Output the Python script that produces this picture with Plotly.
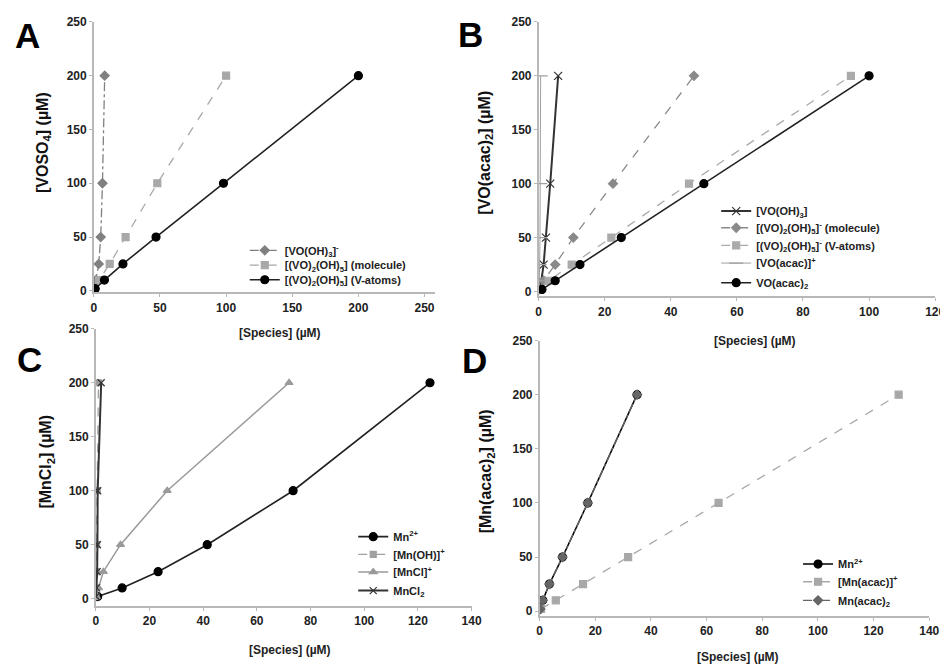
import plotly.graph_objects as go

W, H = 948, 667

# ---- panel A: VOSO4 ----
a_total = [2, 10, 25, 50, 100, 200]
a_vooh3 = [0.4, 1.5, 3.7, 5.2, 6.5, 8.2]
a_dimer_mol = [0.5, 4, 12, 24, 48, 100]
a_dimer_v = [1, 8, 22, 47, 98, 200]

# ---- panel B: VO(acac)2 ----
b_total = [2, 10, 25, 50, 100, 200]
b_vooh3 = [0.3, 0.8, 1.5, 2.2, 3.5, 5.9]
b_dimer_mol = [0.2, 1.5, 5, 10.5, 22.5, 47]
b_dimer_v = [0.4, 3, 10, 22, 45.5, 94.5]
b_voacac = [0.1, 0.2, 0.3, 0.4, 0.5, 0.6]
b_voacac2 = [1, 5, 12.5, 25, 50, 100]

# ---- panel C: MnCl2 ----
c_total = [2, 10, 25, 50, 100, 200]
c_mn = [0.7, 9.8, 23.2, 41.5, 73.5, 124.5]
c_mnoh = [0.05, 0.1, 0.2, 0.3, 0.5, 1.0]
c_mncl = [0.2, 1, 2.8, 9.2, 26.6, 72]
c_mncl2 = [0.1, 0.3, 0.5, 0.6, 0.7, 2.0]

# ---- panel D: Mn(acac)2 ----
d_total = [2, 10, 25, 50, 100, 200]
d_mn = [0.2, 1.1, 3.5, 8.2, 17.3, 35]
d_mnacac = [0.5, 5.8, 15.6, 31.8, 64.3, 129]
d_mnacac2 = [0.2, 1.1, 3.5, 8.2, 17.3, 35]


def px_x(p):
    return p / W


def px_y(p):
    return 1 - p / H


fig = go.Figure()
legend_layout = {}
legend_font = dict(size=11, color="#222222", weight="bold", family="Liberation Sans, Arial")


def add_series(x, y, name, color, dash, symbol, size, axes, legend_pos, width=1.3, mcolor=None):
    # one legend per entry so each row can sit where the reference puts it
    idx = len(fig.data) + 1
    key = "legend" if idx == 1 else f"legend{idx}"
    text_x, row_y = legend_pos
    legend_layout[key] = dict(
        x=px_x(text_x - 46), y=px_y(row_y), xanchor="left", yanchor="middle",
        xref="paper", yref="paper", bgcolor="rgba(0,0,0,0)", itemwidth=30,
        font=legend_font,
    )
    fig.add_trace(go.Scatter(
        x=x, y=y, name=name, mode="lines+markers", showlegend=True,
        line=dict(color=color, dash=dash, width=width),
        marker=dict(symbol=symbol, size=size, color=mcolor or color,
                    line=dict(color=mcolor or color, width=1.2)),
        legend=key, xaxis=axes[0], yaxis=axes[1],
    ))


# A
add_series(a_vooh3, a_total, "[VO(OH)<sub>3</sub>]<sup>-</sup>", "#808080", "dashdot", "diamond", 7, ("x", "y"), (283, 240))
add_series(a_dimer_mol, a_total, "[(VO)<sub>2</sub>(OH)<sub>5</sub>] (molecule)", "#a8a8a8", "dash", "square", 7, ("x", "y"), (283, 255))
add_series(a_dimer_v, a_total, "[(VO)<sub>2</sub>(OH)<sub>5</sub>] (V-atoms)", "#222222", "solid", "circle", 8, ("x", "y"), (283, 270), width=1.6, mcolor="#000000")

# B
add_series(b_vooh3, b_total, "[VO(OH)<sub>3</sub>]", "#333333", "solid", "x-thin", 8, ("x2", "y2"), (761, 200), width=2)
add_series(b_dimer_mol, b_total, "[(VO)<sub>2</sub>(OH)<sub>5</sub>]<sup>-</sup> (molecule)", "#8a8a8a", "dash", "diamond", 7, ("x2", "y2"), (761, 217))
add_series(b_dimer_v, b_total, "[(VO)<sub>2</sub>(OH)<sub>5</sub>]<sup>-</sup> (V-atoms)", "#aaaaaa", "dash", "square", 7, ("x2", "y2"), (761, 235))
add_series(b_voacac, b_total, "[VO(acac)]<sup>+</sup>", "#a0a0a0", "solid", "line-ew", 10, ("x2", "y2"), (761, 253), width=1)
add_series(b_voacac2, b_total, "VO(acac)<sub>2</sub>", "#222222", "solid", "circle", 8, ("x2", "y2"), (761, 273), width=1.6, mcolor="#000000")

# C
add_series(c_mn, c_total, "Mn<sup>2+</sup>", "#222222", "solid", "circle", 8, ("x3", "y3"), (393, 532), width=1.6, mcolor="#000000")
add_series(c_mnoh, c_total, "[Mn(OH)]<sup>+</sup>", "#a0a0a0", "dash", "square", 6, ("x3", "y3"), (393, 550))
add_series(c_mncl, c_total, "[MnCl]<sup>+</sup>", "#9a9a9a", "solid", "triangle-up", 7, ("x3", "y3"), (393, 568), width=1.5)
add_series(c_mncl2, c_total, "MnCl<sub>2</sub>", "#333333", "solid", "x-thin", 7, ("x3", "y3"), (393, 587), width=2)

# D
add_series(d_mn, d_total, "Mn<sup>2+</sup>", "#000000", "solid", "circle", 8, ("x4", "y4"), (844, 560), width=1.5)
add_series(d_mnacac, d_total, "[Mn(acac)]<sup>+</sup>", "#a8a8a8", "dash", "square", 7, ("x4", "y4"), (844, 578))
add_series(d_mnacac2, d_total, "Mn(acac)<sub>2</sub>", "#666666", "dashdot", "diamond", 7, ("x4", "y4"), (844, 597))

tickfont = dict(family="Liberation Sans, Arial", size=12, color="#222222", weight="bold")
axis_style = dict(showline=True, linecolor="#b8b8b8", linewidth=1.5, showgrid=False,
                  zeroline=False, ticks="outside", ticklen=3, tickcolor="#b8b8b8",
                  tickfont=tickfont)

fig.update_layout(
    width=W, height=H,
    showlegend=True,
    margin=dict(l=0, r=0, t=0, b=0),
    paper_bgcolor="white", plot_bgcolor="white",
    font=dict(family="Liberation Sans, Arial", color="#222222"),
    xaxis=dict(domain=[px_x(84), px_x(430)], range=[0, 258], dtick=50, anchor="y", **axis_style),
    yaxis=dict(domain=[px_y(283), px_y(7)], range=[-1.5, 250], dtick=50, anchor="x", **axis_style),
    xaxis2=dict(domain=[px_x(535), px_x(937)], range=[0, 120], dtick=20, anchor="y2", **axis_style),
    yaxis2=dict(domain=[px_y(287), px_y(7)], range=[-4.5, 250], dtick=50, anchor="x2", **axis_style),
    xaxis3=dict(domain=[px_x(86), px_x(467)], range=[0, 140], dtick=20, anchor="y3", **axis_style),
    yaxis3=dict(domain=[px_y(603), px_y(320)], range=[-7, 250], dtick=50, anchor="x3", **axis_style),
    xaxis4=dict(domain=[px_x(536), px_x(931)], range=[0, 140], dtick=20, anchor="y4", **axis_style),
    yaxis4=dict(domain=[px_y(613), px_y(332)], range=[-4.5, 250], dtick=50, anchor="x4", **axis_style),
    **legend_layout,
)

# panel letters
for letter, x, y in [("A", 17, 21), ("B", 466, 20), ("C", 19, 351), ("D", 470, 352)]:
    fig.add_annotation(text=f"<b>{letter}</b>", x=px_x(x), y=px_y(y), xref="paper", yref="paper",
                       xanchor="center", yanchor="middle", showarrow=False,
                       font=dict(size=35, color="black", family="Liberation Sans, Arial"))

# y-axis titles
for text, x, y in [("[VOSO<sub>4</sub>] (µM)", 33, 130),
                   ("[VO(acac)<sub>2</sub>] (µM)", 481, 140),
                   ("[MnCl<sub>2</sub>] (µM)", 36, 456),
                   ("[Mn(acac)<sub>2</sub>] (µM)", 483, 465)]:
    fig.add_annotation(text=f"<b>{text}</b>", x=px_x(x), y=px_y(y), xref="paper", yref="paper",
                       xanchor="center", yanchor="middle", showarrow=False, textangle=-90,
                       font=dict(size=16, color="#111111", family="Liberation Sans, Arial"))

# x-axis titles
for x, y in [(273, 324), (754, 332), (283, 648), (737, 655)]:
    fig.add_annotation(text="[Species] (µM)", x=px_x(x), y=px_y(y), xref="paper", yref="paper",
                       xanchor="center", yanchor="middle", showarrow=False,
                       font=dict(size=12, color="#222222", weight="bold", family="Liberation Sans, Arial"))

fig.write_html("out.html")
